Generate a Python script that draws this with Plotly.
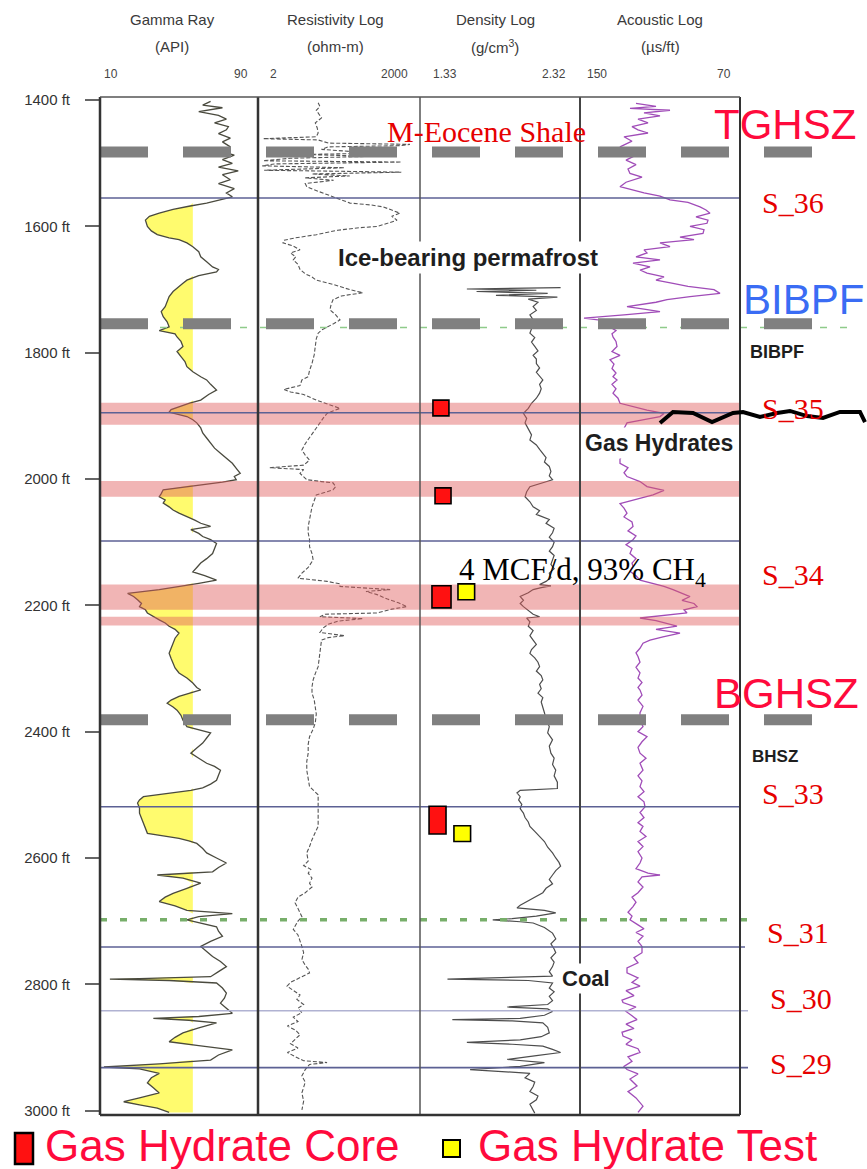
import numpy as np
import plotly.graph_objects as go
from plotly.subplots import make_subplots

# ---------------- data ----------------
depth_ticks = [1400, 1600, 1800, 2000, 2200, 2400, 2600, 2800, 3000]
depth_tick_text = [f"{d} ft" for d in depth_ticks]

track_titles = ["Gamma Ray", "Resistivity Log", "Density Log", "Acoustic Log"]
track_units = ["(API)", "(ohm-m)", "(g/cm<sup>3</sup>)", "(µs/ft)"]
scale_left = ["10", "2", "1.33", "150"]
scale_right = ["90", "2000", "2.32", "70"]

gr_cutoff = 57  # API, sand / shale cutoff for shading

gr_log = [
    (1402, 66), (1408, 62), (1412, 72), (1418, 60), (1424, 70), (1430, 74), (1436, 68), (1442, 75),
    (1447, 74), (1453, 70), (1460, 76), (1466, 72), (1474, 76), (1480, 70), (1487, 78), (1494, 72),
    (1500, 77), (1506, 70), (1512, 80), (1518, 72), (1526, 76), (1532, 70), (1540, 78), (1547, 74),
    (1553, 77), (1558, 70), (1563, 64), (1568, 55), (1573, 47), (1579, 40), (1584, 35), (1590, 33),
    (1600, 34), (1607, 36), (1613, 39), (1618, 45), (1621, 50), (1626, 54), (1632, 57), (1640, 60),
    (1648, 61), (1656, 64), (1664, 67), (1668, 70), (1672, 69), (1678, 60), (1685, 54), (1690, 52),
    (1695, 50), (1703, 47), (1711, 45), (1719, 44), (1727, 43), (1735, 41), (1743, 42), (1751, 44),
    (1759, 45), (1765, 40), (1770, 48), (1775, 49), (1782, 51), (1790, 52), (1798, 49), (1806, 51),
    (1814, 53), (1822, 54), (1830, 57), (1838, 61), (1843, 64), (1850, 66), (1859, 69), (1866, 65),
    (1875, 61), (1880, 55), (1885, 50), (1890, 46), (1894, 45), (1901, 54), (1906, 57), (1911, 59),
    (1919, 61), (1927, 62), (1935, 64), (1943, 66), (1951, 68), (1959, 71), (1967, 74), (1975, 77),
    (1983, 79), (1991, 81), (1996, 78), (2001, 79), (2005, 72), (2009, 61), (2013, 50), (2017, 42),
    (2023, 41), (2028, 40), (2033, 43), (2038, 42), (2044, 45), (2049, 47), (2054, 50), (2059, 54),
    (2065, 58), (2070, 61), (2075, 66), (2080, 56), (2086, 60), (2091, 62), (2096, 66), (2102, 69),
    (2110, 68), (2118, 67), (2126, 64), (2133, 61), (2140, 59), (2147, 57), (2153, 63), (2160, 69),
    (2165, 60), (2170, 50), (2175, 40), (2181, 24), (2186, 27), (2191, 29), (2197, 31), (2202, 30),
    (2207, 33), (2212, 34), (2218, 37), (2223, 40), (2228, 43), (2233, 45), (2238, 48), (2244, 50),
    (2252, 48), (2260, 47), (2268, 46), (2276, 45), (2284, 46), (2291, 47), (2299, 48), (2307, 50),
    (2315, 54), (2323, 57), (2330, 59), (2334, 61), (2339, 55), (2344, 50), (2350, 46), (2355, 44),
    (2361, 47), (2366, 49), (2374, 51), (2382, 52), (2392, 54), (2397, 60), (2402, 66), (2410, 64),
    (2418, 62), (2426, 59), (2434, 56), (2442, 60), (2450, 64), (2455, 68), (2461, 71), (2469, 70),
    (2477, 69), (2483, 66), (2489, 62), (2493, 56), (2496, 48), (2500, 38), (2503, 32), (2508, 30),
    (2513, 29), (2521, 30), (2529, 30), (2537, 31), (2545, 32), (2553, 33), (2561, 34), (2565, 42),
    (2569, 50), (2573, 55), (2577, 59), (2585, 62), (2592, 64), (2600, 69), (2608, 74), (2615, 70),
    (2622, 67), (2625, 50), (2627, 39), (2632, 52), (2640, 61), (2648, 54), (2656, 47), (2662, 43),
    (2669, 40), (2676, 48), (2683, 54), (2688, 77), (2693, 60), (2698, 54), (2704, 63), (2709, 69),
    (2716, 70), (2724, 72), (2732, 66), (2740, 61), (2748, 64), (2756, 67), (2764, 71), (2772, 74),
    (2780, 70), (2788, 66), (2791, 30), (2792, 15), (2794, 45), (2798, 69), (2806, 72), (2814, 74),
    (2822, 73), (2830, 71), (2838, 74), (2846, 77), (2851, 60), (2854, 37), (2857, 55), (2861, 69),
    (2869, 60), (2877, 52), (2884, 48), (2891, 45), (2897, 60), (2904, 77), (2912, 70), (2920, 66),
    (2926, 40), (2931, 12), (2934, 30), (2941, 40), (2948, 36), (2956, 34), (2964, 37), (2972, 40),
    (2980, 30), (2986, 22), (2991, 30), (2996, 39), (3003, 45),
]

res_log = [
    (1404, 26), (1410, 28), (1416, 24), (1420, 26), (1428, 30), (1436, 23), (1444, 25), (1452, 26),
    (1458, 24), (1461, 2.5), (1463, 26), (1468, 40), (1470, 1300), (1472, 900), (1474, 40), (1478, 30),
    (1484, 300), (1486, 15), (1489, 250), (1492, 8), (1496, 2.5), (1498, 900), (1501, 4), (1504, 2.4),
    (1507, 80), (1511, 2.6), (1514, 900), (1517, 20), (1520, 100), (1523, 15), (1527, 50), (1532, 15),
    (1537, 16), (1542, 22), (1547, 32), (1552, 45), (1556, 60), (1559, 80), (1563, 101), (1566, 250),
    (1569, 414), (1574, 600), (1579, 850), (1584, 600), (1590, 750), (1595, 500), (1600, 320),
    (1602, 150), (1606, 60), (1610, 35), (1613, 24), (1618, 10), (1622, 6), (1626, 5.8), (1631, 9),
    (1637, 12), (1642, 8), (1648, 10), (1653, 9), (1660, 11), (1668, 12), (1675, 15), (1680, 20),
    (1685, 24), (1692, 50), (1700, 100), (1705, 175), (1710, 70), (1716, 49), (1724, 45), (1732, 43),
    (1740, 55), (1748, 66), (1754, 50), (1759, 38), (1764, 30), (1769, 26), (1778, 24), (1790, 23),
    (1803, 22), (1817, 20), (1828, 18), (1838, 17), (1843, 13), (1852, 12), (1858, 6), (1862, 8),
    (1866, 14), (1875, 24), (1882, 40), (1888, 66), (1892, 50), (1896, 38), (1904, 32), (1911, 28),
    (1922, 22), (1933, 18), (1944, 15), (1954, 13), (1962, 15), (1970, 18), (1978, 14), (1982, 3.3),
    (1985, 14), (1991, 12), (2001, 16), (2004, 30), (2006, 49), (2012, 55), (2017, 49), (2021, 35),
    (2025, 24), (2034, 22), (2044, 20), (2054, 19), (2064, 18), (2075, 17), (2085, 17), (2096, 18),
    (2107, 18), (2118, 20), (2128, 21), (2140, 17), (2149, 13), (2157, 11), (2162, 38), (2166, 66),
    (2170, 66), (2173, 300), (2175, 560), (2178, 200), (2183, 320), (2190, 500), (2196, 800),
    (2202, 1150), (2206, 600), (2212, 320), (2214, 35), (2218, 28), (2221, 175), (2225, 60),
    (2230, 40), (2236, 32), (2243, 28), (2248, 80), (2251, 40), (2255, 30), (2266, 29), (2276, 28),
    (2287, 27), (2297, 26), (2308, 23), (2318, 21), (2329, 20), (2339, 20), (2350, 22), (2360, 23),
    (2372, 24), (2386, 23), (2396, 21), (2408, 18), (2420, 17), (2434, 17), (2447, 16), (2461, 16),
    (2475, 17), (2487, 18), (2494, 22), (2500, 26), (2510, 26), (2519, 26), (2535, 26), (2550, 26),
    (2556, 24), (2563, 22), (2571, 20), (2582, 18), (2592, 16), (2605, 17), (2612, 14), (2618, 19),
    (2624, 17), (2632, 20), (2640, 18), (2646, 20), (2655, 15), (2662, 11), (2671, 9.7), (2680, 11),
    (2687, 12), (2693, 13), (2700, 11), (2706, 10), (2713, 9), (2722, 11), (2730, 12), (2740, 13),
    (2750, 14), (2761, 13), (2770, 15), (2776, 17), (2782, 18), (2790, 12), (2797, 8), (2803, 6.9),
    (2810, 9), (2817, 12), (2824, 10.5), (2832, 14), (2838, 11), (2845, 13), (2852, 9), (2859, 11),
    (2866, 7), (2873, 10), (2880, 12), (2887, 10), (2894, 8), (2901, 11), (2908, 7), (2915, 10),
    (2921, 14), (2924, 38), (2927, 18), (2935, 15), (2945, 13), (2955, 15), (2962, 14), (2972, 13),
    (2985, 14), (2999, 13),
]

den_log = [
    (1697, 2.20), (1699, 1.62), (1701, 2.05), (1703, 1.68), (1706, 2.12), (1709, 1.80), (1712, 2.18),
    (1715, 2.00), (1720, 2.06), (1727, 2.03), (1733, 2.05), (1740, 2.01), (1748, 2.03), (1755, 2.06),
    (1762, 2.02), (1769, 2.01), (1776, 2.04), (1783, 2.02), (1790, 2.04), (1797, 2.06), (1804, 2.03),
    (1810, 2.05), (1817, 2.05), (1824, 2.07), (1831, 2.05), (1838, 2.07), (1843, 2.09), (1850, 2.07),
    (1857, 2.08), (1864, 2.07), (1872, 2.05), (1880, 2.02), (1888, 2.00), (1896, 1.97), (1904, 1.99),
    (1911, 1.98), (1920, 2.00), (1930, 2.02), (1938, 2.01), (1946, 2.05), (1953, 2.07), (1959, 2.09),
    (1966, 2.11), (1973, 2.10), (1980, 2.13), (1988, 2.14), (1995, 2.13), (2001, 2.15), (2006, 2.08),
    (2012, 2.01), (2020, 1.99), (2028, 1.98), (2036, 2.01), (2044, 2.03), (2050, 2.07), (2056, 2.05),
    (2064, 2.13), (2070, 2.11), (2078, 2.16), (2085, 2.15), (2092, 2.13), (2100, 2.16), (2107, 2.15),
    (2114, 2.13), (2121, 2.16), (2128, 2.15), (2135, 2.14), (2142, 2.16), (2149, 2.13), (2156, 2.14),
    (2162, 2.11), (2167, 2.07), (2169, 2.14), (2172, 2.08), (2175, 2.03), (2180, 2.00), (2186, 1.95),
    (2192, 1.97), (2197, 1.95), (2202, 1.97), (2208, 2.00), (2214, 2.03), (2218, 2.07), (2220, 1.99),
    (2226, 2.01), (2233, 2.00), (2240, 2.03), (2248, 2.01), (2255, 2.03), (2262, 2.05), (2270, 2.02),
    (2276, 2.01), (2283, 2.04), (2290, 2.06), (2297, 2.07), (2304, 2.05), (2311, 2.08), (2318, 2.09),
    (2325, 2.07), (2332, 2.08), (2339, 2.06), (2346, 2.09), (2353, 2.08), (2360, 2.09), (2370, 2.10),
    (2381, 2.11), (2392, 2.13), (2402, 2.12), (2413, 2.15), (2423, 2.13), (2434, 2.14), (2442, 2.16),
    (2452, 2.15), (2461, 2.17), (2470, 2.16), (2480, 2.18), (2490, 2.18), (2493, 1.95), (2497, 1.93),
    (2503, 1.95), (2508, 1.94), (2515, 1.96), (2522, 1.95), (2529, 1.97), (2536, 1.98), (2543, 2.00),
    (2550, 2.01), (2558, 2.04), (2566, 2.07), (2574, 2.10), (2583, 2.12), (2592, 2.15), (2600, 2.17),
    (2607, 2.19), (2613, 2.20), (2620, 2.17), (2627, 2.15), (2634, 2.13), (2641, 2.15), (2648, 2.11),
    (2655, 2.09), (2662, 2.04), (2669, 1.99), (2675, 1.95), (2679, 1.93), (2683, 2.10), (2687, 2.17),
    (2692, 2.05), (2696, 1.90), (2698, 1.78), (2701, 1.95), (2703, 2.03), (2710, 2.10), (2719, 2.15),
    (2728, 2.17), (2736, 2.14), (2744, 2.16), (2750, 2.17), (2758, 2.14), (2765, 2.16), (2772, 2.15),
    (2780, 2.13), (2787, 2.15), (2792, 1.50), (2794, 2.00), (2798, 2.15), (2806, 2.13), (2812, 2.16),
    (2819, 2.13), (2826, 2.15), (2832, 2.12), (2836, 1.87), (2839, 2.12), (2843, 2.15), (2849, 2.10),
    (2854, 1.95), (2856, 1.53), (2858, 1.90), (2861, 2.09), (2868, 2.12), (2877, 2.13), (2883, 2.08),
    (2888, 1.95), (2892, 1.62), (2895, 1.90), (2898, 2.09), (2903, 2.15), (2908, 2.20), (2913, 2.05),
    (2919, 1.87), (2924, 2.10), (2930, 1.95), (2935, 1.64), (2938, 1.85), (2941, 2.01), (2948, 1.98),
    (2955, 2.04), (2962, 2.03), (2970, 2.01), (2977, 2.06), (2983, 2.05), (2990, 2.01), (2999, 2.03),
    (3004, 2.04),
]

ac_log = [
    (1405, 122), (1410, 112), (1413, 125), (1416, 105), (1420, 118), (1425, 110), (1430, 121),
    (1436, 116), (1442, 124), (1447, 121), (1452, 116), (1458, 128), (1465, 124), (1474, 130),
    (1480, 126), (1487, 122), (1495, 127), (1502, 122), (1509, 126), (1516, 125), (1522, 119),
    (1530, 127), (1537, 130), (1542, 124), (1547, 118), (1552, 110), (1558, 105), (1562, 96),
    (1566, 92), (1569, 90), (1574, 87), (1579, 85), (1585, 92), (1590, 86), (1595, 86.5), (1600, 95),
    (1605, 88), (1611, 88.5), (1617, 100), (1621, 93), (1626, 110), (1632, 105), (1637, 118),
    (1642, 116.5), (1648, 122), (1653, 110), (1658, 123.5), (1664, 115), (1669, 120), (1674, 116.5),
    (1680, 108), (1685, 112), (1690, 103.5), (1695, 96), (1700, 83), (1706, 80), (1711, 95),
    (1716, 106.5), (1720, 112), (1724, 120), (1727, 126.5), (1731, 118), (1735, 110), (1740, 128),
    (1745, 148), (1749, 138), (1754, 133), (1759, 135), (1765, 132), (1770, 134), (1775, 133.5),
    (1782, 132), (1790, 131.5), (1798, 134), (1804, 130), (1811, 135), (1818, 133), (1825, 134),
    (1832, 132), (1838, 133.5), (1843, 131.5), (1850, 134), (1857, 132), (1864, 133.5), (1872, 131),
    (1880, 130), (1886, 122), (1891, 116.5), (1896, 108), (1901, 110), (1906, 118), (1911, 126.5),
    (1920, 128), (1930, 129), (1940, 127), (1950, 131), (1960, 128), (1968, 130), (1975, 130),
    (1982, 126), (1990, 128), (1996, 126.5), (2004, 120), (2012, 116.5), (2018, 108), (2025, 113.5),
    (2032, 122), (2039, 130), (2046, 128), (2054, 126.5), (2060, 128), (2068, 124), (2075, 123.5),
    (2082, 126), (2090, 122), (2096, 123.5), (2104, 127), (2110, 124), (2118, 125), (2126, 122),
    (2133, 124), (2138, 123.5), (2146, 125), (2153, 122), (2160, 120), (2166, 112), (2170, 108),
    (2175, 103.5), (2180, 100), (2186, 95), (2192, 99), (2197, 93), (2202, 91.5), (2207, 98),
    (2212, 96.5), (2216, 110), (2220, 120), (2224, 112), (2229, 106), (2233, 101.5), (2238, 112),
    (2244, 100), (2250, 108.5), (2255, 115), (2260, 118.5), (2268, 120), (2275, 122), (2281, 121),
    (2290, 120), (2298, 122), (2307, 120), (2315, 121), (2322, 119), (2330, 121), (2334, 120),
    (2342, 119), (2350, 121), (2360, 118.5), (2370, 120), (2381, 120), (2392, 118.5), (2400, 121),
    (2408, 116.5), (2416, 119), (2425, 121), (2434, 120), (2442, 117), (2450, 120), (2461, 118.5),
    (2470, 121), (2478, 119), (2487, 120), (2495, 118), (2503, 121), (2511, 118), (2519, 117.5),
    (2528, 120), (2536, 118), (2544, 121), (2550, 118.5), (2558, 120), (2566, 117), (2574, 121),
    (2582, 118.5), (2590, 121), (2600, 119), (2608, 120), (2617, 122), (2624, 116), (2627, 110),
    (2630, 119), (2638, 121), (2646, 118.5), (2655, 121), (2662, 124), (2670, 122), (2677, 123.5),
    (2686, 126), (2692, 124), (2698, 125), (2706, 121), (2712, 118), (2718, 122), (2724, 118.5),
    (2732, 121), (2740, 119), (2750, 119), (2758, 123), (2766, 121), (2774, 126.5), (2782, 126.5),
    (2790, 121), (2797, 124), (2803, 120), (2810, 127), (2818, 123), (2825, 129), (2829, 128.5),
    (2836, 122), (2843, 127), (2850, 124), (2856, 121.5), (2863, 127), (2870, 123), (2876, 129),
    (2882, 128.5), (2888, 124), (2895, 127), (2902, 121), (2908, 120), (2915, 126), (2922, 124),
    (2930, 128), (2935, 126.5), (2942, 121), (2950, 125), (2961, 121.5), (2970, 126), (2980, 122),
    (2993, 118.5), (3003, 121),
]

# gas hydrate bearing intervals (top, base) in ft
hydrate_zones = [(1879, 1914), (2003, 2028), (2167, 2207), (2218, 2232)]
# sequence boundaries (ft)
sequence_tops = [1555, 1895, 2098, 2519, 2741, 2842, 2932]
# TGHSZ, BIBPF, BGHSZ picks (ft)
boundary_picks = [1482, 1754, 2381]
# green dotted picks (ft)
green_picks = [1760, 2698]
# cored and tested intervals (top, base) in ft
core_intervals = [(1875, 1900), (2014, 2039), (2169, 2204), (2518, 2562)]
test_intervals = [(2166, 2191), (2549, 2574)]

# ---------------- geometry helpers ----------------
W, H = 867, 1169
ML, MR, MT, MB = 100, 127, 97, 54
PW, PH = W - ML - MR, H - MT - MB


def px(x):
    return (x - ML) / PW


def py(y):
    return (H - MB - y) / PH


SANS = "Liberation Sans, Arial, sans-serif"
SERIF = "Liberation Serif, Times New Roman, serif"

fig = make_subplots(rows=1, cols=4, shared_yaxes=True, horizontal_spacing=0)

gr_d, gr_v = zip(*gr_log)
res_d, res_v = zip(*res_log)
den_d, den_v = zip(*den_log)
ac_d, ac_v = zip(*ac_log)

gr_v = np.array(gr_v, dtype=float)
fig.add_trace(go.Scatter(x=np.minimum(gr_v, gr_cutoff), y=gr_d, mode="lines",
                         line=dict(width=0), hoverinfo="skip"), row=1, col=1)
fig.add_trace(go.Scatter(x=[gr_cutoff] * len(gr_d), y=gr_d, mode="lines",
                         line=dict(width=0), fill="tonextx", fillcolor="#fffb6e",
                         hoverinfo="skip"), row=1, col=1)
fig.add_trace(go.Scatter(x=gr_v, y=gr_d, mode="lines",
                         line=dict(color="#4a4a3e", width=1.3)), row=1, col=1)
fig.add_trace(go.Scatter(x=res_v, y=res_d, mode="lines",
                         line=dict(color="#555555", width=1.1, dash="4px,2px")), row=1, col=2)
fig.add_trace(go.Scatter(x=den_v, y=den_d, mode="lines",
                         line=dict(color="#4d4d4d", width=1.2)), row=1, col=3)
fig.add_trace(go.Scatter(x=ac_v, y=ac_d, mode="lines",
                         line=dict(color="#a04cb8", width=1.3)), row=1, col=4)

domains = [[0, px(258)], [px(258), px(420)], [px(420), px(580)], [px(580), 1]]
for i, dom in enumerate(domains):
    key = "xaxis" if i == 0 else f"xaxis{i + 1}"
    fig.layout[key].domain = dom

fig.update_xaxes(showticklabels=False, showgrid=False, zeroline=False, showline=False, ticks="")
fig.update_xaxes(range=[10, 90], row=1, col=1)
fig.update_xaxes(type="log", range=[np.log10(2), np.log10(2000)], row=1, col=2)
fig.update_xaxes(range=[1.33, 2.32], row=1, col=3)
fig.update_xaxes(range=[150, 70], row=1, col=4)

fig.update_yaxes(range=[3007, 1395], showgrid=False, zeroline=False, showline=False)
fig.update_yaxes(tickvals=depth_ticks, ticktext=depth_tick_text, ticks="outside", ticklen=14,
                 tickwidth=1.5, tickcolor="#666666", ticklabelstandoff=12,
                 tickfont=dict(family=SANS, size=15, color="#333333"), row=1, col=1)
for c in (2, 3, 4):
    fig.update_yaxes(showticklabels=False, ticks="", row=1, col=c)

shapes = []
# gas hydrate bands across all tracks
for top, base in hydrate_zones:
    shapes.append(dict(type="rect", xref="paper", yref="y", x0=0, x1=1, y0=top, y1=base,
                       fillcolor="rgba(225,90,90,0.45)", line=dict(width=0), layer="above"))
# sequence boundaries
seq_right = [740, 740, 740, 740, 745, 748, 748]
for d, xr in zip(sequence_tops, seq_right):
    faint = d == 2842
    shapes.append(dict(type="line", xref="paper", yref="y", x0=0, x1=px(xr), y0=d, y1=d,
                       line=dict(color="#b0b2d2" if faint else "#5c6194", width=1.4 if faint else 1.6),
                       layer="above"))
# green dotted picks
shapes.append(dict(type="line", xref="paper", yref="y", x0=0, x1=px(860), y0=green_picks[0], y1=green_picks[0],
                   line=dict(color="#8fcb8a", width=1.6, dash="7px,13px"), layer="above"))
shapes.append(dict(type="line", xref="paper", yref="y", x0=0, x1=px(752), y0=green_picks[1], y1=green_picks[1],
                   line=dict(color="#77ae6a", width=3.5, dash="7px,13px"), layer="above"))
# thick grey dashed boundary picks
for d in boundary_picks:
    shapes.append(dict(type="line", xref="paper", yref="y", x0=0, x1=px(815), y0=d, y1=d,
                       line=dict(color="#808080", width=11, dash="48px,35px"), layer="above"))
# track frame
for xx, col, wd in [(100, "#333333", 2.5), (258, "#333333", 2.5), (420, "#555555", 1.5),
                    (580, "#444444", 2), (740, "#333333", 2)]:
    shapes.append(dict(type="line", xref="paper", yref="paper", x0=px(xx), x1=px(xx), y0=0, y1=1,
                       line=dict(color=col, width=wd), layer="above"))
shapes.append(dict(type="line", xref="paper", yref="paper", x0=0, x1=1, y0=1, y1=1,
                   line=dict(color="#555555", width=1.5), layer="above"))
shapes.append(dict(type="line", xref="paper", yref="paper", x0=0, x1=1, y0=0, y1=0,
                   line=dict(color="#333333", width=2.5), layer="above"))

# cores and tests drawn in the density track
core_left = [1.410, 1.423, 1.404, 1.386]
core_width = [0.099, 0.099, 0.118, 0.105]
for (top, base), x0, w in zip(core_intervals, core_left, core_width):
    shapes.append(dict(type="rect", xref="x3", yref="y", x0=x0, x1=x0 + w, y0=top, y1=base,
                       fillcolor="#ff1111", line=dict(color="black", width=1.6), layer="above"))
test_left = [1.565, 1.540]
for (top, base), x0 in zip(test_intervals, test_left):
    shapes.append(dict(type="rect", xref="x3", yref="y", x0=x0, x1=x0 + 0.103, y0=top, y1=base,
                       fillcolor="#ffff00", line=dict(color="black", width=1.6), layer="above"))

# hand-drawn wavy marker near S_35
wave_px = [(660, 423), (673, 412), (693, 413), (712, 422), (733, 413), (743, 412), (760, 417),
           (777, 413), (790, 411), (807, 416), (823, 418), (840, 412), (860, 412), (865, 422)]
path = "M " + " L ".join(f"{px(a):.4f},{py(b):.4f}" for a, b in wave_px)
shapes.append(dict(type="path", xref="paper", yref="paper", path=path,
                   line=dict(color="black", width=4), layer="above"))

# legend swatches
shapes.append(dict(type="rect", xref="paper", yref="paper", x0=px(15), x1=px(33), y0=py(1164), y1=py(1133),
                   fillcolor="#ff1111", line=dict(color="black", width=2.5)))
shapes.append(dict(type="rect", xref="paper", yref="paper", x0=px(443), x1=px(460), y0=py(1157), y1=py(1140),
                   fillcolor="#ffff00", line=dict(color="black", width=2)))

annotations = []


def ann(text, x, y, size, color="#222222", family=SANS, xanchor="center", bg=None):
    d = dict(text=text, x=px(x), y=py(y), xref="paper", yref="paper", showarrow=False,
             xanchor=xanchor, yanchor="middle", font=dict(family=family, size=size, color=color))
    if bg:
        d.update(bgcolor=bg, borderpad=2)
    annotations.append(d)


# headers
title_cx = [172, 335, 495, 660]
for t, u, cx in zip(track_titles, track_units, title_cx):
    ann(t, cx, 20, 15, "#3a3a3a")
    ann(u, cx, 46, 15, "#3a3a3a")
left_x = [102, 268, 431, 585]
right_x = [250, 410, 568, 733]
for s, xx in zip(scale_left, left_x):
    ann(s, xx, 74, 12, "#444444", xanchor="left")
for s, xx in zip(scale_right, right_x):
    ann(s, xx, 74, 12, "#444444", xanchor="right")

RED = "#ff0a3c"
ann("M-Eocene Shale", 486, 131, 30, "#e60000", SERIF)
ann("TGHSZ", 712, 124, 42, RED, xanchor="left")
ann("S_36", 760, 203, 30, "#e60000", SERIF, xanchor="left")
ann("<b>Ice-bearing permafrost</b>", 468, 258, 24, "#1e1e1e", bg="white")
ann("BIBPF", 741, 299, 42, "#3a6cf4", xanchor="left")
ann("<b>BIBPF</b>", 748, 352, 18, "#1e1e1e", xanchor="left")
ann("S_35", 760, 408, 30, "#e60000", SERIF, xanchor="left")
ann("<b>Gas Hydrates</b>", 659, 443, 23, "#1e1e1e", bg="white")
ann("4 MCF/d, 93% CH<sub>4</sub>", 457, 572, 31, "black", SERIF, xanchor="left")
ann("S_34", 760, 574, 30, "#e60000", SERIF, xanchor="left")
ann("BGHSZ", 712, 693, 42, RED, xanchor="left")
ann("<b>BHSZ</b>", 750, 756, 17, "#1e1e1e", xanchor="left")
ann("S_33", 760, 793, 30, "#e60000", SERIF, xanchor="left")
ann("S_31", 765, 932, 30, "#e60000", SERIF, xanchor="left")
ann("<b>Coal</b>", 586, 978, 22, "#1e1e1e", bg="white")
ann("S_30", 768, 998, 30, "#e60000", SERIF, xanchor="left")
ann("S_29", 768, 1063, 30, "#e60000", SERIF, xanchor="left")
ann("Gas Hydrate Core", 43, 1145, 44, RED, xanchor="left")
ann("Gas Hydrate Test", 476, 1145, 44, RED, xanchor="left")

fig.update_layout(
    width=W, height=H,
    margin=dict(l=ML, r=MR, t=MT, b=MB, pad=0),
    paper_bgcolor="white", plot_bgcolor="white",
    showlegend=False,
    shapes=shapes, annotations=annotations,
)

fig.write_html("out.html")
